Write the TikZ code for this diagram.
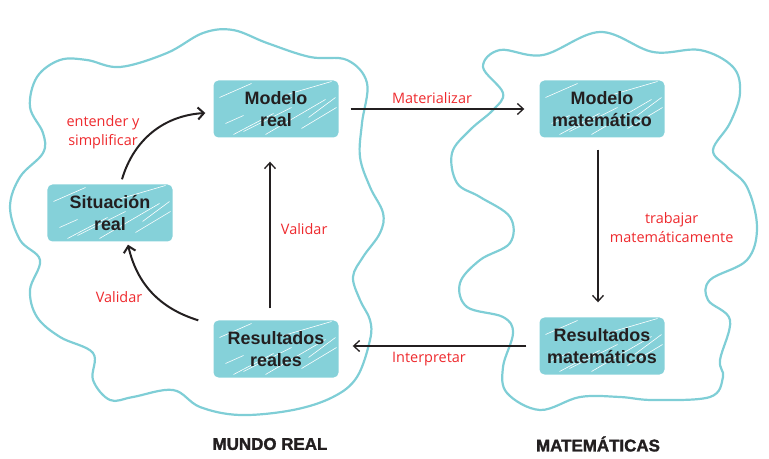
\documentclass[tikz,border=0pt]{standalone}
\usepackage{fontspec}
\setmainfont{Liberation Sans}
\newfontfamily\etiqfont{Open Sans}
\newfontfamily\gruesafont[FakeBold=1.6]{Liberation Sans Bold}
\usetikzlibrary{arrows.meta}
\definecolor{nube}{HTML}{7FCED6}
\definecolor{caja}{HTML}{85D1D9}
\definecolor{rojo}{HTML}{EE2A2E}
\definecolor{tinta}{HTML}{231F20}
\begin{document}
\begin{tikzpicture}[x=1bp, y=-1bp,
	nodo/.style={rounded corners=5bp, fill=caja, minimum width=125bp, minimum height=57bp, align=center, text=tinta,
		font=\fontsize{18}{22}\selectfont\bfseries,
		path picture={\foreach \a/\b/\c/\d in {30/6/78/30, 52/3/112/38, 88/9/123/30, 6/40/38/54, 70/42/118/56, 12/14/30/22, 95/20/122/40, 20/3/60/24}
			\draw[white, line width=0.6bp] ([shift={(\a bp,\b bp)}]path picture bounding box.south west) -- ([shift={(\c bp,\d bp)}]path picture bounding box.south west);}},
	etiq/.style={text=rojo, align=center, font=\etiqfont\fontsize{14.5}{19}\selectfont},
	flecha/.style={draw=tinta, line width=1.3bp, -{Straight Barb[length=6bp, width=11bp]}},
	curva/.style={draw=tinta, line width=2bp, -{Straight Barb[length=6bp, width=12bp]}},
	titulo/.style={text=tinta, font=\gruesafont\fontsize{17}{20}\selectfont}]
	\useasboundingbox (0,0) rectangle (769,459);
	
	% nubes
	\draw[nube, line width=2.2bp] plot[smooth cycle, tension=0.6] coordinates {(30,107) (37,77) (60,60) (87,60) (120,67) (167,53) (203,33) (233,30) (267,43) (310,57) (347,60) (367,83) (362,123) (360,157) (370,187) (383,213) (380,233) (363,257) (353,277) (360,300) (370,320) (370,340) (357,377) (333,397) (293,410) (240,415) (200,407) (173,390) (133,397) (110,400) (93,380) (93,353) (60,337) (37,317) (30,290) (40,260) (20,240) (10,207) (20,177) (43,153) (43,133)};
	\draw[nube, line width=2.2bp] plot[smooth cycle, tension=0.6] coordinates {(483,67) (500,50) (543,55) (600,32) (653,52) (700,50) (733,67) (740,93) (730,123) (713,150) (727,167) (747,187) (757,227) (747,260) (710,280) (708,300) (730,320) (720,360) (723,377) (710,397) (653,400) (620,397) (580,397) (540,410) (507,393) (503,367) (513,333) (503,317) (467,307) (460,283) (480,260) (510,243) (510,217) (480,197) (457,183) (452,153) (470,130) (493,110) (503,93)};
	
	% cajas
	\node[nodo] (mreal) at (276,109) {Modelo\\real};
	\node[nodo] (sreal) at (110,213) {Situación\\real};
	\node[nodo] (rreal) at (276,349) {Resultados\\reales};
	\node[nodo] (mmat) at (602,109) {Modelo\\matemático};
	\node[nodo] (rmat) at (602,346) {Resultados\\matemáticos};
	
	% flechas
	\draw[flecha, shorten <=12bp, shorten >=15bp] (mreal) -- (mmat) node[etiq, midway, above=1bp, xshift=-7bp] (lmat) {Materializar};
	\draw[flecha, shorten <=12bp, shorten >=15bp] ([xshift=-4bp]mmat.south) -- ([xshift=-4bp]rmat.north) node[etiq, midway, right=8bp] (ltrab) {trabajar\\matemáticamente};
	\draw[flecha, shorten <=13bp, shorten >=14bp] (rmat.west) -- (rmat.west -| rreal.east) node[etiq, midway, below=2bp, xshift=-10bp] (linterp) {Interpretar};
	\draw[flecha, shorten <=12bp, shorten >=24bp] ([xshift=-6bp]rreal.north) -- ([xshift=-6bp]mreal.south) node[etiq, midway, right=7bp] (lval) {Validar};
	\draw[curva] ([xshift=12bp, yshift=5bp]sreal.north) to[bend left=35] ([xshift=-8bp, yshift=-4bp]mreal.west);
	\draw[curva] ([xshift=-15bp]rreal.north west) to[bend left=30] ([xshift=18bp, yshift=-3bp]sreal.south);
	\node[etiq] (lent) at (103,132) {entender y\\simplificar};
	\node[etiq] (lval2) at (119,297) {Validar};
	
	% titulos
	\node[titulo] (mundo) at (270,444) {MUNDO REAL};
	\node[titulo] (mate) at (598,444) {MATEMÁTICAS};
\end{tikzpicture}
\end{document}
